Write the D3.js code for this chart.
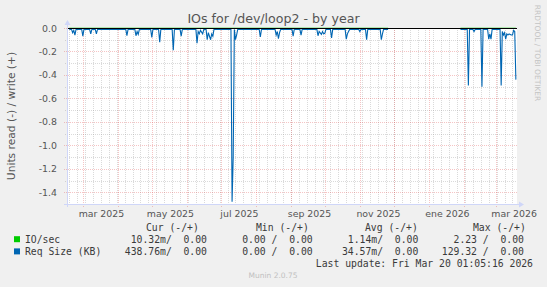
<!DOCTYPE html>
<html>
<head>
<meta charset="utf-8">
<style>
  body { margin: 0; background: #f0f0f0; }
  svg { display: block; }
  .axis text { font-family: "DejaVu Sans"; font-size: 9.4px; fill: #555; }
  .axis path, .axis line { stroke: none; }
  .legend text { font-family: "DejaVu Sans Mono"; font-size: 9.75px; fill: #3a3a3a; white-space: pre; }
</style>
<script src="https://d3js.org/d3.v7.min.js"></script>
<script>
  // Req Size (KB) read (-) values, one per day, null = no data
  var reqDates = [
    "2025-02-17","2025-02-19","2025-02-20","2025-02-21","2025-02-22","2025-02-23",
    "2025-02-28","2025-03-01","2025-03-02","2025-03-07","2025-03-08","2025-03-09",
    "2025-03-12","2025-03-13","2025-03-14","2025-04-08","2025-04-09","2025-04-10",
    "2025-04-16","2025-04-17","2025-04-18","2025-04-19","2025-04-20","2025-04-30",
    "2025-05-01","2025-05-02","2025-05-07","2025-05-08","2025-05-09","2025-05-19",
    "2025-05-20","2025-05-21","2025-05-26","2025-05-27","2025-05-28","2025-06-09",
    "2025-06-10","2025-06-11","2025-06-12","2025-06-13","2025-06-15","2025-06-16",
    "2025-06-18","2025-06-19","2025-06-20","2025-06-22","2025-06-23","2025-06-24",
    "2025-06-25","2025-07-10","2025-07-11","2025-07-12","2025-07-13","2025-07-14",
    "2025-07-15","2025-07-16","2025-08-04","2025-08-05","2025-08-06","2025-08-18",
    "2025-08-19","2025-08-20","2025-08-21","2025-08-22","2025-08-23","2025-09-02",
    "2025-09-03","2025-09-04","2025-09-09","2025-09-10","2025-09-11","2025-09-24",
    "2025-09-25","2025-09-26","2025-09-28","2025-09-29","2025-09-30","2025-10-01",
    "2025-10-02","2025-10-06","2025-10-07","2025-10-08","2025-10-19","2025-10-20",
    "2025-10-21","2025-10-22","2025-10-23","2025-10-31","2025-11-01","2025-11-02",
    "2025-11-06","2025-11-07","2025-11-08","2025-11-19","2025-11-20","2025-11-21",
    "2025-11-22","2025-11-26","2025-11-27","2026-01-28","2026-01-29","2026-02-04",
    "2026-02-05","2026-02-06","2026-02-09","2026-02-10","2026-02-11","2026-02-16",
    "2026-02-17","2026-02-18","2026-02-22","2026-02-23","2026-02-24","2026-02-25",
    "2026-02-26","2026-03-05","2026-03-06","2026-03-07","2026-03-08","2026-03-09",
    "2026-03-10","2026-03-11","2026-03-12","2026-03-13","2026-03-14","2026-03-15",
    "2026-03-16","2026-03-17","2026-03-18","2026-03-19"
  ];
  var reqRead = [
    -0.012,-0.012,-0.04,-0.02,-0.06,-0.012,
    -0.012,-0.07,-0.012,-0.012,-0.05,-0.012,
    -0.012,-0.05,-0.012,-0.012,-0.066,-0.012,
    -0.012,-0.066,-0.03,-0.055,-0.012,-0.012,
    -0.08,-0.012,-0.012,-0.12,-0.012,-0.012,
    -0.19,-0.012,-0.012,-0.07,-0.012,-0.012,
    -0.13,-0.03,-0.05,-0.02,-0.05,-0.012,
    -0.012,-0.1,-0.04,-0.1,-0.05,-0.07,
    -0.012,-0.012,-1.48,-1.1,-0.012,-0.1,
    -0.06,-0.012,-0.012,-0.077,-0.012,-0.012,
    -0.06,-0.03,-0.09,-0.04,-0.012,-0.012,
    -0.07,-0.012,-0.012,-0.06,-0.012,-0.012,
    -0.066,-0.03,-0.055,-0.03,-0.05,-0.045,
    -0.012,-0.012,-0.085,-0.012,-0.012,-0.095,
    -0.05,-0.03,-0.012,-0.012,-0.03,-0.012,
    -0.012,-0.1,-0.012,-0.012,-0.1,-0.05,
    -0.012,-0.012,null,null,-0.012,-0.012,
    -0.49,-0.012,-0.012,-0.03,-0.012,-0.012,
    -0.5,-0.012,-0.012,-0.095,-0.05,-0.095,
    -0.012,-0.012,-0.49,-0.03,-0.06,-0.04,
    -0.095,-0.05,-0.06,-0.05,-0.055,-0.06,
    -0.06,-0.02,-0.03,-0.44
  ];
  // IO/sec read (-), practically zero
  var ioDates = ["2025-02-17","2025-11-26","2025-11-27","2026-01-28","2026-01-29","2026-03-19"];
  var ioRead = [-0.002,-0.002,null,null,-0.002,-0.002];

  var yTicks = [0, -0.2, -0.4, -0.6, -0.8, -1.0, -1.2, -1.4];
  var yMinor = [-0.1, -0.3, -0.5, -0.7, -0.9, -1.1, -1.3];
  var xLabelDates = ["2025-03-17","2025-05-17","2025-07-17","2025-09-17","2025-11-17","2026-01-17","2026-03-17"];
  var xLabels = ["mar 2025","may 2025","jul 2025","sep 2025","nov 2025","ene 2026","mar 2026"];

  var legendNames = ["IO/sec", "Req Size (KB)"];
  var legendColors = ["#00cc00", "#0066b3"];
  var curRead = ["10.32m", "438.76m"];
  var minRead = ["0.00 ", "0.00 "];
  var avgRead = ["1.14m", "34.57m"];
  var maxRead = ["2.23 ", "129.32 "];
  var writeVal = ["0.00", "0.00"];
  var headers = ["Cur (-/+)", "Min (-/+)", "Avg (-/+)", "Max (-/+)"];
  var headerX = [146, 256, 365, 473];

  function draw() {
    "use strict";
    var width = 547, height = 287;
    var plotL = 67, plotR = 517, plotT = 28, plotB = 204;
    var parse = d3.timeParse("%Y-%m-%d");

    var svg = d3.select("body").append("svg")
      .attr("width", width).attr("height", height);

    var x = d3.scaleTime()
      .domain([parse("2025-02-15"), parse("2026-03-20")])
      .range([plotL, plotR]);
    var y = d3.scaleLinear().domain([-1.5, 0]).range([plotB, plotT]);

    svg.append("rect")
      .attr("x", plotL).attr("y", plotT)
      .attr("width", plotR - plotL).attr("height", plotB - plotT)
      .attr("fill", "#fff");

    // grid
    var grid = svg.append("g").attr("shape-rendering", "crispEdges");
    var weeks = d3.timeMonday.range(x.domain()[0], x.domain()[1]);
    var months = d3.timeMonth.range(x.domain()[0], x.domain()[1]);
    var minorCol = "rgba(150,150,150,0.35)", majorCol = "rgba(225,70,70,0.32)";

    grid.selectAll(".vmin").data(weeks).enter().append("line")
      .attr("x1", function(d){ return Math.round(x(d)) + 0.5; })
      .attr("x2", function(d){ return Math.round(x(d)) + 0.5; })
      .attr("y1", plotT).attr("y2", plotB + 2)
      .attr("stroke", minorCol).attr("stroke-dasharray", "1,1");
    grid.selectAll(".hmin").data(yMinor).enter().append("line")
      .attr("x1", plotL - 2).attr("x2", plotR)
      .attr("y1", function(d){ return Math.round(y(d)) + 0.5; })
      .attr("y2", function(d){ return Math.round(y(d)) + 0.5; })
      .attr("stroke", minorCol).attr("stroke-dasharray", "1,1");
    grid.selectAll(".vmaj").data(months).enter().append("line")
      .attr("x1", function(d){ return Math.round(x(d)) + 0.5; })
      .attr("x2", function(d){ return Math.round(x(d)) + 0.5; })
      .attr("y1", plotT).attr("y2", plotB + 3)
      .attr("stroke", majorCol).attr("stroke-dasharray", "1,1");
    grid.selectAll(".hmaj").data(yTicks).enter().append("line")
      .attr("x1", plotL - 3).attr("x2", plotR)
      .attr("y1", function(d){ return Math.round(y(d)) + 0.5; })
      .attr("y2", function(d){ return Math.round(y(d)) + 0.5; })
      .attr("stroke", majorCol).attr("stroke-dasharray", "1,1");

    // axes (labels only)
    svg.append("g").attr("class", "axis")
      .attr("transform", "translate(0," + plotB + ")")
      .call(d3.axisBottom(x)
        .tickValues(xLabelDates.map(parse))
        .tickFormat(function(d, i){ return xLabels[i]; })
        .tickSize(0).tickPadding(6));
    svg.append("g").attr("class", "axis")
      .attr("transform", "translate(" + (plotL - 10) + ",0)")
      .call(d3.axisLeft(y)
        .tickValues(yTicks)
        .tickFormat(function(d){ return d.toFixed(1); })
        .tickSize(0).tickPadding(0));

    // series
    svg.append("clipPath").attr("id", "clip")
      .append("rect").attr("x", plotL).attr("y", plotT - 1)
      .attr("width", plotR - plotL).attr("height", plotB - plotT + 1);

    var line = d3.line()
      .defined(function(d){ return d[1] !== null; })
      .x(function(d){ return x(d[0]); })
      .y(function(d){ return y(d[1]); });

    svg.append("path")
      .datum(ioDates.map(function(d, i){ return [parse(d), ioRead[i]]; }))
      .attr("clip-path", "url(#clip)")
      .attr("d", line).attr("fill", "none")
      .attr("stroke", legendColors[0]).attr("stroke-width", 1);
    svg.append("path")
      .datum(reqDates.map(function(d, i){ return [parse(d), reqRead[i]]; }))
      .attr("clip-path", "url(#clip)")
      .attr("d", line).attr("fill", "none")
      .attr("stroke", legendColors[1]).attr("stroke-width", 1.1);

    // zero line
    svg.append("line")
      .attr("x1", plotL).attr("x2", plotR)
      .attr("y1", y(0) + 0.5).attr("y2", y(0) + 0.5)
      .attr("stroke", "#000").attr("stroke-width", 1);

    // axis lines with arrows
    var axisCol = "#cfd6f8";
    svg.append("line").attr("x1", plotL + 0.5).attr("x2", plotL + 0.5)
      .attr("y1", plotB + 3).attr("y2", plotT - 4)
      .attr("stroke", axisCol);
    svg.append("path").attr("d", "M" + (plotL - 2.5) + "," + (plotT - 3) + "L" + (plotL + 0.5) + "," + (plotT - 8) + "L" + (plotL + 3.5) + "," + (plotT - 3) + "Z")
      .attr("fill", axisCol);
    svg.append("line").attr("x1", plotL - 3).attr("x2", plotR + 3)
      .attr("y1", plotB + 0.5).attr("y2", plotB + 0.5)
      .attr("stroke", axisCol);
    svg.append("path").attr("d", "M" + (plotR + 2) + "," + (plotB - 2.5) + "L" + (plotR + 7) + "," + (plotB + 0.5) + "L" + (plotR + 2) + "," + (plotB + 3.5) + "Z")
      .attr("fill", axisCol);

    // title and side texts
    svg.append("text").attr("x", 273.5).attr("y", 23)
      .attr("text-anchor", "middle")
      .style("font-family", "DejaVu Sans").style("font-size", "12.6px")
      .attr("fill", "#555").text("IOs for /dev/loop2 - by year");
    svg.append("text")
      .attr("transform", "translate(11," + ((plotT + plotB) / 2) + ") rotate(-90)")
      .attr("text-anchor", "middle").attr("dy", "0.35em")
      .style("font-family", "DejaVu Sans").style("font-size", "10.7px")
      .attr("fill", "#555").text("Units read (-) / write (+)");
    svg.append("text")
      .attr("transform", "translate(537.5,53) rotate(90)")
      .attr("text-anchor", "middle").attr("dy", "0.35em")
      .style("font-family", "DejaVu Sans").style("font-size", "7.5px")
      .attr("fill", "#c4c4c4").text("RRDTOOL / TOBI OETIKER");

    // legend
    var leg = svg.append("g").attr("class", "legend");
    leg.selectAll(".hdr").data(headers).enter().append("text")
      .attr("x", function(d, i){ return headerX[i]; }).attr("y", 230.5)
      .text(function(d){ return d; });
    legendNames.forEach(function(name, i) {
      var yy = 242.7 + i * 12.2;
      leg.append("rect").attr("x", 14).attr("y", yy - 6.5)
        .attr("width", 6).attr("height", 6).attr("fill", legendColors[i]);
      var s = name.padEnd(17) +
        (curRead[i] + "/").padStart(8) + writeVal[i].padStart(6) +
        (minRead[i] + "/").padStart(12) + writeVal[i].padStart(6) +
        (avgRead[i] + "/").padStart(12) + writeVal[i].padStart(6) +
        (maxRead[i] + "/").padStart(12) + writeVal[i].padStart(6);
      leg.append("text").attr("x", 25).attr("y", yy)
        .attr("xml:space", "preserve").text(s);
    });
    leg.append("text").attr("x", 533).attr("y", 267)
      .attr("text-anchor", "end")
      .text("Last update: Fri Mar 20 01:05:16 2026");
    svg.append("text").attr("x", 273).attr("y", 278)
      .attr("text-anchor", "middle")
      .style("font-family", "DejaVu Sans").style("font-size", "7.5px")
      .attr("fill", "#c0c0c0").text("Munin 2.0.75");
  }
</script>
</head>
<body>
<script>draw();</script>
</body>
</html>
